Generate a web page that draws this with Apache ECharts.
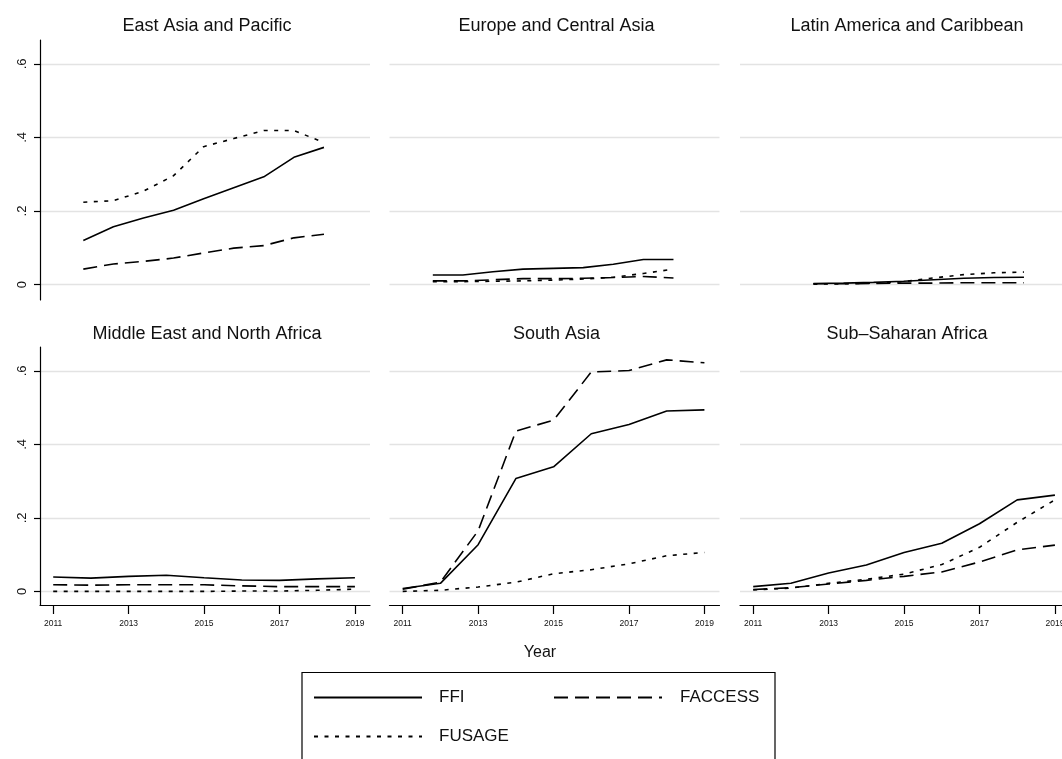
<!DOCTYPE html>
<html>
<head>
<meta charset="utf-8">
<script src="https://cdn.jsdelivr.net/npm/echarts@6/dist/echarts.min.js"></script>
<style>
  html, body { margin: 0; padding: 0; background: #fff; }
  #chart { width: 1062px; height: 759px; }
</style>
</head>
<body>
<div id="chart"></div>
<script>
// Financial inclusion indices by region, 2011-2019
const years = [2011, 2012, 2013, 2014, 2015, 2016, 2017, 2018, 2019];
const regions = [
  'East Asia and Pacific', 'Europe and Central Asia', 'Latin America and Caribbean',
  'Middle East and North Africa', 'South Asia', 'Sub\u2013Saharan Africa'
];
const measures = ['FFI', 'FACCESS', 'FUSAGE'];
const yTicks = [0, 0.2, 0.4, 0.6];
const xTicks = [2011, 2013, 2015, 2017, 2019];

const eapFFI     = [0.120, 0.157, 0.181, 0.202, 0.233, 0.263, 0.293, 0.346, 0.373];
const eapFACCESS = [0.042, 0.056, 0.063, 0.072, 0.086, 0.099, 0.106, 0.127, 0.137];
const eapFUSAGE  = [0.224, 0.228, 0.254, 0.296, 0.375, 0.397, 0.419, 0.419, 0.386];

const ecaFFI     = [0.026, 0.026, 0.035, 0.042, 0.044, 0.046, 0.055, 0.068, 0.068];
const ecaFACCESS = [0.010, 0.010, 0.013, 0.016, 0.016, 0.017, 0.019, 0.022, 0.018];
const ecaFUSAGE  = [0.008, 0.008, 0.009, 0.010, 0.012, 0.015, 0.020, 0.030, 0.042];

const lacFFI     = [null, 0.003, 0.004, 0.006, 0.009, 0.013, 0.017, 0.019, 0.020];
const lacFACCESS = [null, 0.002, 0.002, 0.003, 0.004, 0.004, 0.005, 0.005, 0.005];
const lacFUSAGE  = [null, 0.001, 0.002, 0.004, 0.008, 0.018, 0.027, 0.032, 0.034];

const menaFFI     = [0.039, 0.036, 0.041, 0.044, 0.037, 0.031, 0.030, 0.034, 0.037];
const menaFACCESS = [0.018, 0.017, 0.018, 0.018, 0.018, 0.015, 0.013, 0.013, 0.013];
const menaFUSAGE  = [0.000, 0.000, 0.000, 0.000, 0.000, 0.001, 0.001, 0.003, 0.006];

const sarFFI     = [0.008, 0.022, 0.127, 0.307, 0.339, 0.429, 0.454, 0.491, 0.494];
const sarFACCESS = [0.006, 0.025, 0.165, 0.436, 0.466, 0.597, 0.601, 0.630, 0.622];
const sarFUSAGE  = [0.000, 0.003, 0.012, 0.025, 0.048, 0.059, 0.075, 0.097, 0.106];

const ssaFFI     = [0.013, 0.022, 0.050, 0.072, 0.106, 0.131, 0.184, 0.249, 0.262];
const ssaFACCESS = [0.005, 0.010, 0.020, 0.030, 0.041, 0.053, 0.080, 0.113, 0.126];
const ssaFUSAGE  = [0.004, 0.009, 0.022, 0.033, 0.047, 0.073, 0.120, 0.188, 0.249];

const panelData = [
  [eapFFI, eapFACCESS, eapFUSAGE],
  [ecaFFI, ecaFACCESS, ecaFUSAGE],
  [lacFFI, lacFACCESS, lacFUSAGE],
  [menaFFI, menaFACCESS, menaFUSAGE],
  [sarFFI, sarFACCESS, sarFUSAGE],
  [ssaFFI, ssaFACCESS, ssaFUSAGE]
];

// panel geometry; the third column is cut by the right edge of the canvas,
// so its axis range is shortened to keep the same pixels-per-year scale
const FONT = "'Liberation Sans', Arial, Helvetica, sans-serif";
const colLeft = [40, 389.5, 740];
const panelW = 330;
const canvasW = 1062;
const rowTop = [40, 347];
const rowH = [260, 258];
const rowYMin = [-0.042, -0.037];
const yMax = 0.665;
const rowXMin = [2009.56, 2010.65];
const rowXMax = [2020.53, 2019.4];
const dashes = ['solid', [14, 7], [4, 6.5]];
const axisColor = '#000';

const grids = [], xAxes = [], yAxes = [], series = [], titles = [];

regions.forEach((name, i) => {
  const r = Math.floor(i / 3), c = i % 3;
  const visibleW = Math.min(panelW, canvasW - colLeft[c]);
  const xMin = rowXMin[r];
  const xMax = xMin + (rowXMax[r] - xMin) * visibleW / panelW;
  grids.push({
    left: colLeft[c], top: rowTop[r], height: rowH[r], width: visibleW,
    containLabel: false, outerBoundsMode: 'none'
  });

  titles.push({
    text: name,
    left: colLeft[c] + panelW / 2 - 3,
    top: r === 0 ? 12 : 320,
    textAlign: 'center',
    textStyle: { fontSize: 18, fontWeight: 'normal', color: '#111', fontFamily: FONT }
  });

  if (r === 0) {
    xAxes.push({ gridIndex: i, type: 'value', min: xMin, max: xMax, show: false });
  } else {
    xAxes.push({
      gridIndex: i, type: 'value', min: xMin, max: xMax,
      axisLine: { show: true, onZero: false, lineStyle: { color: axisColor, width: 1.2 } },
      axisTick: { show: true, length: 9, customValues: xTicks, lineStyle: { color: axisColor, width: 1.2 } },
      axisLabel: {
        show: true, customValues: xTicks, fontSize: 8.5, margin: 14, color: '#111',
        fontFamily: FONT, formatter: v => String(v)
      },
      splitLine: { show: false }
    });
  }

  yAxes.push({
    gridIndex: i, type: 'value', min: rowYMin[r], max: yMax,
    axisLine: { show: c === 0, onZero: false, lineStyle: { color: axisColor, width: 1.2 } },
    axisTick: { show: c === 0, length: 6, customValues: yTicks, lineStyle: { color: axisColor, width: 1.2 } },
    axisLabel: {
      show: c === 0, customValues: yTicks, rotate: 90, fontSize: 13, margin: 11,
      color: '#111', fontFamily: FONT,
      formatter: v => (v === 0 ? '0' : String(+v.toFixed(1)).replace(/^0/, ''))
    },
    splitLine: { show: true, lineStyle: { color: '#e3e3e3', width: 1.3 } }
  });

  measures.forEach((m, k) => {
    const vals = panelData[i][k];
    const pts = [];
    years.forEach((y, j) => { if (vals[j] !== null) pts.push([y, vals[j]]); });
    series.push({
      name: m, type: 'line', xAxisIndex: i, yAxisIndex: i,
      data: pts, symbol: 'none', showSymbol: false,
      lineStyle: { color: '#000', width: 1.6, type: dashes[k] },
      itemStyle: { color: '#000' },
      emphasis: { disabled: true },
      animation: false
    });
  });
});

titles.push({
  text: 'Year', left: 535, top: 640, textAlign: 'center',
  textStyle: { fontSize: 16, fontWeight: 'normal', color: '#111', fontFamily: FONT }
});

function legendFor(name, left, top, gap) {
  return {
    data: [name], left: left, top: top, padding: 0,
    itemWidth: 108, itemHeight: 20, selectedMode: false,
    itemStyle: { color: 'rgba(0,0,0,0)', borderColor: 'rgba(0,0,0,0)', borderWidth: 0 },
    textStyle: { fontSize: 17, color: '#111', fontFamily: FONT, padding: [0, 0, 0, gap] }
  };
}

const chart = echarts.init(document.getElementById('chart'), null, { renderer: 'canvas' });
chart.setOption({
  animation: false,
  backgroundColor: '#fff',
  textStyle: { fontFamily: FONT },
  title: titles,
  grid: grids,
  xAxis: xAxes,
  yAxis: yAxes,
  series: series,
  legend: [
    legendFor('FFI', 313, 689, 12),
    legendFor('FACCESS', 553, 689, 13),
    legendFor('FUSAGE', 313, 728, 12)
  ],
  graphic: [{
    type: 'rect', silent: true, z: 0,
    shape: { x: 302, y: 672.5, width: 473, height: 130 },
    style: { fill: 'none', stroke: '#000', lineWidth: 1.2 }
  }]
});
</script>
</body>
</html>
